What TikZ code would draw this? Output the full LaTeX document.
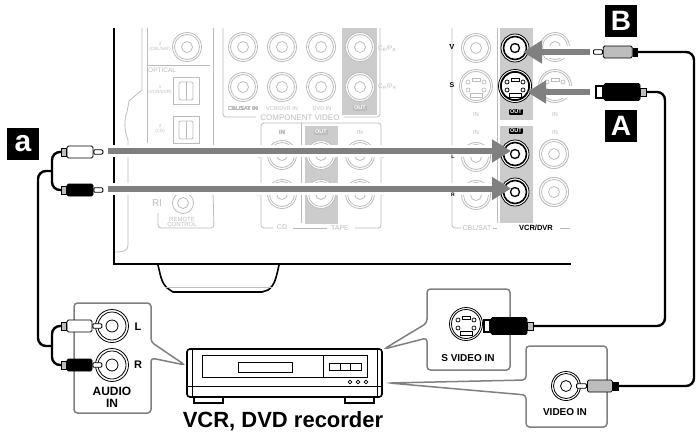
\documentclass[tikz,border=0pt]{standalone}
\usepackage{fontspec}
\setmainfont{Liberation Sans}
\usetikzlibrary{calc,arrows.meta}
\definecolor{panelgray}{HTML}{BCBCBC}
\definecolor{stripgray}{HTML}{CCCCCC}
\definecolor{arrowgray}{HTML}{808080}
\definecolor{plugrey}{HTML}{BDBDBD}

\begin{document}
\begin{tikzpicture}[x=1pt,y=-1pt,
  panel/.style={draw=panelgray,line width=.8pt},
  strip/.style={fill=stripgray,draw=none},
  faint/.style={text=panelgray,font=\fontsize{#1}{#1}\selectfont,inner sep=0pt,align=center},
  faint/.default=5.5,
  outtag/.style={fill=#1,text=white,font=\bfseries\fontsize{5.5}{5.5}\selectfont,inner sep=1pt,rounded corners=.8pt},
  outtag/.default=black,
  mark/.style={fill=black,text=white,font=\bfseries\fontsize{#1}{#1}\selectfont,minimum size=32pt,inner sep=0pt},
  bigarrow/.style={draw=arrowgray,line width=6pt,-{Triangle[length=19pt,width=22pt]}},
  halo/.style={draw=white,line width=12pt},
  cable/.style={draw=black,line width=2.4pt,rounded corners=8pt},
  callout/.style={draw=arrowgray,line width=1.5pt,fill=white,rounded corners=3.5pt},
  hold/.style={font=\bfseries\fontsize{#1}{#1}\selectfont,inner sep=0pt,align=center},
  hold/.default=10,
  plugbody/.style={draw=black,line width=.8pt,fill=#1,inner sep=0pt,minimum width=26pt,minimum height=12pt,rounded corners=1.5pt},
  plugtip/.style={draw=black,line width=.9pt,fill=white,inner sep=0pt,minimum width=9pt,minimum height=4.5pt,rounded corners=1pt},
  plugcuff/.style={draw=black,line width=.8pt,fill=#1,inner sep=0pt,minimum width=5pt,minimum height=8pt}
  ]
\useasboundingbox (0,0) rectangle (700,431);
% little helpers for the sockets
\def\jack(#1,#2)#3{%
  \draw[#3,line width=.8pt,fill=white] (#1,#2) circle (14.5);
  \draw[#3,line width=.8pt] (#1,#2) circle (12.5) (#1,#2) circle (5.5);}
\def\jackbig(#1,#2){%
  \draw[black,line width=.8pt,fill=white] (#1,#2) circle (16.5);
  \draw[black,line width=.8pt] (#1,#2) circle (14) (#1,#2) circle (6);}
\def\jackb(#1,#2){%
  \draw[black,line width=.8pt,fill=white] (#1,#2) circle (14);
  \draw[black,line width=1.6pt] (#1,#2) circle (11.5);
  \draw[black,line width=1.3pt] (#1,#2) circle (4.5);}
\def\svideo(#1,#2)#3{%
  \draw[#3,line width=.8pt,fill=white] (#1,#2) circle (16.5);
  \draw[#3,line width=.8pt] (#1,#2) circle (14.5);
  \draw[#3,line width=.8pt] ($(#1,#2)+(-4,-8)$) rectangle ($(#1,#2)+(4,-5)$);
  \draw[#3,line width=.8pt] ($(#1,#2)+(-6,7)$) rectangle ($(#1,#2)+(6,11)$);
  \foreach \dx/\dy in {-8/-4,8/-4,-8/4,8/4}
    \draw[#3,line width=.7pt] ($(#1,#2)+(\dx,\dy)$) circle (2);}
% gray parts of the rear panel
\fill[strip] (342,28) rectangle (377,115);
\fill[strip] (305,126) rectangle (338,224);
\fill[strip] (500,28) rectangle (533,120);
\fill[strip] (500,126) rectangle (533,223);
\draw[black,line width=2pt] (114,28) -- (114,264) -- (571,264);
\draw[black,line width=1.6pt] (158,265) .. controls (161,278) and (162,285) .. (170,290)
  -- (173,292) -- (262,292) -- (268,290) .. controls (275,285) and (276,278) .. (279,265);
\draw[panelgray,line width=.8pt] (165,287) -- (272,287);
\draw[panel] (142,28) -- (142,90) -- (129,101) -- (127,112) .. controls (124,120) and (124,130) .. (128,140)
  -- (128,245) .. controls (128,250) and (125,252) .. (115,252);
\draw[panel] (147,28) -- (147,143);
\draw[panel] (148,65) -- (210,65);
\draw[panel] (213,28) -- (213,145);
\draw[panel,rounded corners=3pt] (213,192) -- (214,228) -- (158,228) -- (158,213);
\node[faint=6.5,anchor=west] (optical) at (148,70) {OPTICAL};
\node[faint=4.5] (opt2a) at (160,47) {2\\(CBL/SAT)};
\node[faint=4.5] (opt1) at (160,90) {1\\(VCR/DVR)};
\node[faint=4.5] (opt2b) at (160,129) {2\\(CD)};
\jack(187,47){panelgray}
\foreach \yy in {77,116}{
  \draw[panel] (173,\yy) rectangle (199,\yy+27);
  \draw[panel,rounded corners=2pt] (179,\yy+5) rectangle (193,\yy+23);
  \draw[panel] (186,\yy+5) -- (186,\yy+23);
}
\draw[panel] (183,203) circle (10.5) (183,203) circle (5.5);
\node[faint=10] (ri) at (157,203) {RI};
\node[faint=6] (remote) at (182,222) {REMOTE\\[-.5pt]CONTROL};
% component video block
\draw[panel,rounded corners=3pt] (223,28) -- (223,117) -- (256,117);
\draw[panel,rounded corners=3pt] (344,117) -- (380,117) -- (380,28);
\foreach \xx in {243,282,321,360}
  \foreach \yy in {47,87}
    \jack(\xx,\yy){panelgray}
\node[faint] (cblin) at (243,109) {CBL/SAT IN};
\node[faint] (vcrin) at (282,109) {VCR/DVR IN};
\node[faint] (dvdin) at (322,109) {DVD IN};
\node[outtag=panelgray] (compout) at (360,108) {OUT};
\node[faint=8] (compvideo) at (300,118) {COMPONENT VIDEO};
\node[faint=6.5,anchor=west] (cb) at (378,49) {C\textsubscript{B}/P\textsubscript{B}};
\node[faint=6.5,anchor=west] (cr) at (378,87) {C\textsubscript{R}/P\textsubscript{R}};
% CD and tape block
\draw[panel,rounded corners=3pt] (273,228) -- (261,228) -- (261,123) -- (381,123) -- (381,228) -- (355,228);
\draw[panel] (293,228) -- (327,228);
\draw[panel] (301,123) -- (301,223);
\foreach \xx in {282,321,360}
  \foreach \yy in {155,194}
    \jack(\xx,\yy){panelgray}
\node[faint=6] (cdin) at (282,132) {IN};
\node[outtag=panelgray] (tapeout) at (321,132) {OUT};
\node[faint=6] (tapein) at (360,132) {IN};
\node[faint=7] (cdlabel) at (282,227) {CD};
\node[faint=7] (tapelabel) at (340,228) {TAPE};
\node[faint=5] (cdleft) at (259,157) {L};
\node[faint=5] (cdright) at (259,195) {R};
\node[faint=5] (tapeleft) at (383,157) {L};
\node[faint=5] (taperight) at (383,195) {R};
% VCR/DVR block
\draw[panel,rounded corners=3pt] (452,28) -- (452,228) -- (461,228);
\draw[panel] (493,228) -- (497,228) (497,28) -- (497,223);
\draw[panel] (560,228) -- (570,228);
\jack(476,48){panelgray}
\jack(555,47){panelgray}
\svideo(476,86){panelgray}
\svideo(555,86){panelgray}
\foreach \yy in {157,195}
  \jack(476,\yy){panelgray}
\foreach \yy in {154,192}
  \jack(554,\yy){panelgray}
\node[hold=7,fill=white] (vlabel) at (452,47) {V};
\node[hold=7,fill=white] (slabel) at (452,85) {S};
\node[faint=6] at (476,114) {IN};
\node[faint=6] at (476,132) {IN};
\node[faint=6] at (555,114) {IN};
\node[faint=6] at (555,132) {IN};
\node[outtag] (vcrouta) at (516,112) {OUT};
\node[outtag] (vcroutb) at (516,131) {OUT};
\node[faint=7,fill=white,inner sep=1pt] (cblsat) at (477,228) {CBL/SAT};
\node[hold=7.5,fill=white,inner sep=1pt] (vcrdvr) at (536,228) {VCR/DVR};
% arrows with their white halo
\coordinate (arrowL) at (108,151);
\coordinate (arrowR) at (108,188.5);
\coordinate (arrowV) at (590,52);
\coordinate (arrowS) at (590,92);
\draw[halo] (arrowL) -- (490,151);
\draw[halo] (arrowR) -- (490,188.5);
\draw[halo] (arrowV) -- (545,52);
\draw[halo] (arrowS) -- (548,92);
\node[hold=5] (llabel) at (453,157) {L};
\node[hold=5] (rlabel) at (453,195) {R};
\jackb(515,48)
\svideo(515,86){black}
\draw[black,line width=1.5pt] (515,86) circle (14);
\jackb(515,154)
\jackb(515,192)
\draw[bigarrow] (arrowL) -- (511,151);
\draw[bigarrow] (arrowR) -- (511,188.5);
\draw[bigarrow] (arrowV) -- (523,52);
\draw[bigarrow] (arrowS) -- (527,92);
% marks
\node[mark=28] (markB) at (621,21) {B};
\node[mark=28] (markA) at (621,126) {A};
\node[mark=30] (marka) at (23,144) {a};
% callouts and the recorder
\draw[callout] (74,303) -- (151,303) -- (151,342) -- (185,365) -- (151,358) -- (151,413) -- (74,413) -- cycle;
\draw[callout] (427,289) -- (510,289) -- (510,370) -- (427,370) -- (427,338) -- (384,349) -- (427,323) -- cycle;
\draw[callout] (526,346) -- (607,346) -- (607,427) -- (526,427) -- (526,395) -- (389,383) -- (526,380) -- cycle;
\draw[black,line width=1.6pt,rounded corners=3pt] (187,349) rectangle (382,397);
\draw[black,line width=.8pt] (192,349) -- (192,397) (377,349) -- (377,397);
\draw[black,line width=.8pt] (187,386) -- (382,386);
\draw[black,line width=.8pt] (202,355) rectangle (367,377);
\draw[black,line width=.8pt] (323,355) -- (323,377);
\draw[black,line width=.9pt] (238,362) rectangle (292,372);
\draw[black,line width=1pt] (329,363) rectangle (361,370);
\draw[black,line width=.8pt] (340,363) -- (340,370) (350,363) -- (350,370);
\foreach \xx in {350,358,366}
  \draw[black,line width=.7pt] (\xx,382) circle (1.9);
\draw[black,line width=1.4pt] (194,397) rectangle (223,403);
\draw[black,line width=1.4pt] (345,397) rectangle (374,403);
\node[hold=22] (recorder) at (283,421) {VCR, DVD recorder};
\node[hold=11] (lin) at (138,327) {L};
\node[hold=11] (rin) at (138,365) {R};
\node[hold=12] (audioin) at (112,397) {AUDIO\\IN};
\node[hold=10] (svideoin) at (468,358) {S VIDEO IN};
\node[hold=10] (videoin) at (565,412) {VIDEO IN};
\jackbig(112,326)
\jackbig(112,365)
\svideo(466,324){black}
\jack(566,386){black}
% plugs at the top left and bottom left
\foreach \nm/\yy/\col in {L/152/white,R/190/black}{
  \node[plugbody=\col,minimum width=26pt] (plug\nm) at (80,\yy) {};
  \node[plugcuff=plugrey,anchor=east] (cuff\nm) at (plug\nm.west) {};
  \node[plugtip,anchor=west] (tip\nm) at (plug\nm.east) {};
}
\foreach \nm/\yy/\col in {L/326/white,R/365/black}{
  \node[plugbody=\col,minimum width=25pt] (inplug\nm) at (79.5,\yy) {};
  \node[plugcuff=plugrey,anchor=east] (incuff\nm) at (inplug\nm.west) {};
  \node[plugtip,anchor=west] (intip\nm) at (inplug\nm.east) {};
}
% plugs on the right
\node[plugtip,anchor=west] (tipB) at (593,52) {};
\node[plugbody=plugrey,minimum width=29pt,anchor=west] (plugB) at (tipB.east) {};
\node[plugcuff=black,anchor=west,minimum width=4pt] (cuffB) at (plugB.east) {};
\node[plugbody=black,minimum width=36pt,minimum height=17pt] (plugA) at (622,92) {};
\node[plugcuff=plugrey,anchor=west,minimum width=6pt] (cuffA) at (plugA.east) {};
\node[plugcuff=white,anchor=east,minimum width=7pt,minimum height=12pt,line width=1.6pt] (prongA) at (plugA.west) {};
\node[plugbody=black,minimum width=36pt,minimum height=17pt] (plugS) at (509,326) {};
\node[plugcuff=plugrey,anchor=west,minimum width=6pt] (cuffS) at (plugS.east) {};
\node[plugcuff=white,anchor=east,minimum width=6pt,minimum height=12pt,line width=1.6pt] (prongS) at (plugS.west) {};
\node[plugtip,anchor=east,minimum width=10pt] (tipV) at (587,386) {};
\node[plugbody=plugrey,minimum width=25pt,anchor=west] (plugV) at (tipV.east) {};
\node[plugcuff=black,anchor=west] (cuffV) at (plugV.east) {};
% cables
\coordinate (turnA) at (665,200);
\coordinate (turnB) at (694,200);
\coordinate (forkTop) at (52,171);
\coordinate (forkLow) at (52,346);
\coordinate (trunk) at (38,260);
\draw[cable] (cuffA.east) -| (turnA) |- (cuffS.east);
\draw[cable] (cuffB.east) -| (turnB) |- (cuffV.east);
\draw[cable] (cuffL.west) -| (forkTop) |- (cuffR.west);
\draw[cable] (incuffL.west) -| (forkLow) |- (incuffR.west);
\draw[cable] (forkTop) -| (trunk) |- (forkLow);
\end{tikzpicture}
\end{document}
